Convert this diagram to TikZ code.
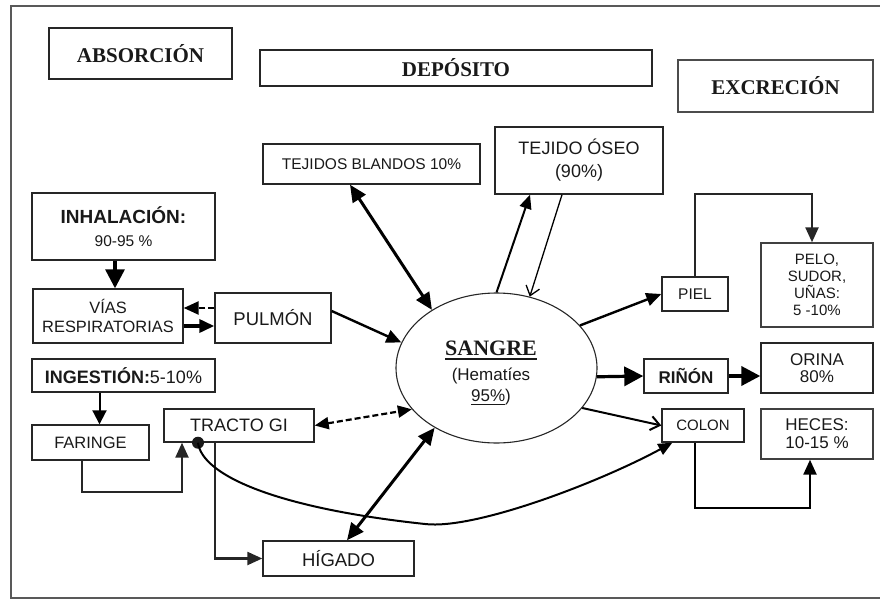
\documentclass[tikz,border=0pt]{standalone}
\usepackage{fontspec}
\setmainfont{Liberation Serif}
\setsansfont{Liberation Sans}
\usetikzlibrary{arrows.meta,shapes.geometric}
\newcommand{\myfs}[2]{\fontsize{#1}{#2}\selectfont}
\newcommand{\myuline}[3]{\setbox0=\hbox{#3}\leavevmode\rlap{\rule[-#1]{\wd0}{#2}}\box0}
\begin{document}
\begin{tikzpicture}[x=1pt,y=-1pt,
  box/.style={draw=black!85, line width=1.4pt, rectangle, inner sep=0pt, align=center, text=black!90},
  head/.style={font=\rmfamily\bfseries\myfs{21}{24}},
  sf/.style={font=\sffamily\myfs{#1}{#1}},
  big/.style={line width=3.2pt, -{Triangle[length=19pt,width=19pt]}},
  med/.style={line width=2.4pt, -{Triangle[length=15pt,width=13pt]}},
  sml/.style={line width=2pt, -{Triangle[length=14pt,width=12pt]}},
  dbig/.style={line width=3pt, {Triangle[length=17pt,width=15pt]}-{Triangle[length=17pt,width=15pt]}},
  dmed/.style={line width=2.2pt, {Triangle[length=14pt,width=12pt]}-{Triangle[length=14pt,width=12pt]}},
  thinarr/.style={line width=1.3pt, -{Straight Barb[length=9pt,width=14pt]}},
  rough/.style={line width=2.4pt, black!85},
  dashline/.style={dash pattern=on 6pt off 3pt}
]
\useasboundingbox (0,0) rectangle (880,599);
% frame
\draw[black!65, line width=1.5pt] (880,598) -- (11,598) -- (11,6) -- (880,6);

% headings
\node[box, head, minimum width=183pt, minimum height=51pt] (absorcion) at (140.5,53.5) {ABSORCIÓN};
\node[box, head, minimum width=392pt, minimum height=36pt] (deposito) at (456,68) {DEPÓSITO};
\node[box, head, draw=black!70, minimum width=195pt, minimum height=52pt] (excrecion) at (775.5,86) {EXCRECIÓN};

% deposit boxes
\node[box, sf=15.5, minimum width=217pt, minimum height=40pt] (blandos) at (371.5,164) {TEJIDOS BLANDOS 10\%};
\node[box, font=\sffamily\myfs{18}{23}, minimum width=168pt, minimum height=67pt] (oseo) at (579,160.5) {TEJIDO ÓSEO\\(90\%)};

% absorption boxes
\node[box, font=\sffamily\myfs{19}{23}, minimum width=183pt, minimum height=67pt] (inhal) at (123.5,226.5) {\textbf{INHALACIÓN:}\\\myfs{15.5}{23}90-95 \%};
\node[box, font=\sffamily\myfs{16.4}{18.5}, minimum width=150pt, minimum height=54pt] (vias) at (108,316) {VÍAS\\RESPIRATORIAS};
\node[box, sf=18.5, minimum width=116pt, minimum height=50pt] (pulmon) at (273,318) {PULMÓN};
\node[box, sf=18, minimum width=183pt, minimum height=33pt] (ingest) at (123.5,375.5) {\textbf{INGESTIÓN:}5-10\%};
\node[box, sf=16.5, minimum width=117pt, minimum height=35pt] (faringe) at (90.5,442.5) {FARINGE};
\node[box, sf=18, minimum width=150pt, minimum height=33pt] (tracto) at (239,425.5) {TRACTO GI};
\node[box, sf=18.5, minimum width=151pt, minimum height=35pt] (higado) at (338.5,558.5) {HÍGADO};

% blood
\node[draw=black!85, line width=1.1pt, ellipse, minimum width=201pt, minimum height=150pt, inner sep=0pt] (sangre) at (496.5,368) {};
\node[align=center, inner sep=0pt, text=black!90, font=\sffamily\myfs{17}{21}] (sangretxt) at (491,373)
  {{\rmfamily\bfseries\myfs{22}{21}\myuline{4pt}{2pt}{SANGRE}}\\[4pt](Hematíes\\\myuline{3.5pt}{1.3pt}{95\%})};

% excretion boxes
\node[box, sf=15.5, minimum width=66pt, minimum height=34pt] (piel) at (695,294) {PIEL};
\node[box, draw=black!75, font=\sffamily\myfs{15}{17}, minimum width=112pt, minimum height=84pt] (pelo) at (817,285) {PELO,\\SUDOR,\\UÑAS:\\5 -10\%};
\node[box, sf=17, minimum width=84pt, minimum height=34pt] (rinon) at (686,376) {\textbf{RIÑÓN}};
\node[box, font=\sffamily\myfs{17}{16.5}, minimum width=112pt, minimum height=50pt] (orina) at (817,368) {ORINA\\80\%};
\node[box, sf=15, minimum width=82pt, minimum height=33pt] (colon) at (703,425.5) {COLON};
\node[box, draw=black!75, font=\sffamily\myfs{17}{18}, minimum width=112pt, minimum height=50pt] (heces) at (817,434) {HECES:\\10-15 \%};

% helper coordinates
\coordinate (pk) at (812,194);
\coordinate (hk) at (810,508);
\coordinate (fk) at (182,492);
\coordinate (cmid) at (425,524);
\coordinate (dot) at ([xshift=-41pt]tracto.south);

% connectors
\draw[big] ([xshift=-8.5pt]inhal.south) -- ([xshift=7pt]vias.north);
\draw[med, dashline] ([yshift=10pt]pulmon.west) -- ([yshift=8pt]vias.east);
\draw[line width=3.5pt, -{Triangle[length=15pt,width=13pt]}] ([yshift=-10pt]vias.east) -- ([yshift=-8pt]pulmon.west);
\draw[med] ([yshift=7pt]pulmon.east) -- (sangre.165);
\draw[dbig] ([xshift=-21.5pt]blandos.south) -- (sangre.138);
\draw[sml] (sangre.90) -- ([xshift=-49pt]oseo.south);
\draw[thinarr] ([xshift=-17pt]oseo.south) -- (sangre.65);
\draw[med] (sangre.27) -- (piel.west);
\draw[med, rough] (piel.north) |- (pk) -- ([xshift=-5pt]pelo.north);
\draw[big] (sangre.-5) -- (rinon.west);
\draw[big, line width=3.8pt] (rinon.east) -- (orina.west |- rinon.east);
\draw[thinarr, line width=2pt] (sangre.-25.6) -- (colon.west);
\draw[med] ([xshift=-8pt]colon.south) |- (hk) -- ([xshift=-7pt]heces.south);
\draw[sml, -{Triangle[length=14pt,width=14pt]}] ([xshift=-24pt]ingest.south) -- ([xshift=9pt]faringe.north);
\draw[med, rough] ([xshift=-8.5pt]faringe.south) |- (fk) -- ([xshift=-57pt]tracto.south);
\draw[dmed, dashline] (tracto.east) -- (sangre.206.7);
\draw[med, rough] ([xshift=-24pt]tracto.south) |- (higado.west);
\draw[dbig] ([xshift=8.5pt]higado.north) -- (sangre.224);
\fill[black!90] (dot) circle[radius=6pt];
\draw[sml] (dot) .. controls (202,475) and (275,508) .. (cmid) .. controls (475,530) and (600,482) .. ([xshift=11pt]colon.south west);
\end{tikzpicture}
\end{document}
